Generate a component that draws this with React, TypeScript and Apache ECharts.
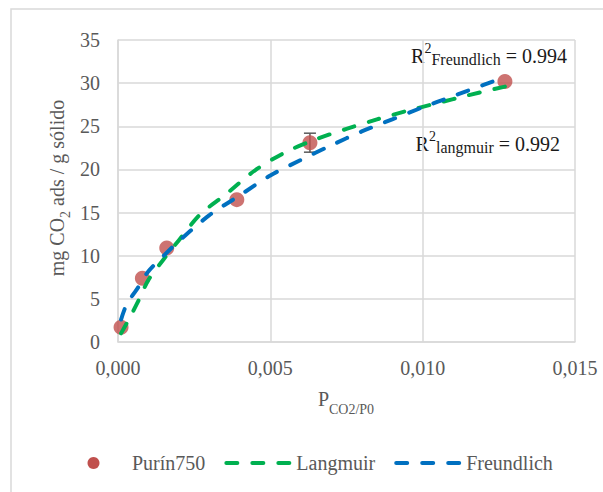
import React, { useEffect, useRef } from "react";
import * as echarts from "echarts";

// ---- data ----
const SERIES_NAMES = ["Purín750", "Langmuir", "Freundlich"];
const SERIES_COLORS = ["#C0504D", "#00B050", "#0070C0"];

const PURIN_P = [0.0001, 0.0008, 0.0016, 0.0039, 0.0063, 0.0127];
const PURIN_Q = [1.7, 7.4, 10.9, 16.5, 23.1, 30.2];
const PURIN_ERR = [0, 0, 0, 0, 1.1, 0];

const LANGMUIR_P = [0.0001, 0.0004, 0.0007, 0.001, 0.0015, 0.002, 0.0027, 0.0035, 0.0045, 0.0055, 0.0065, 0.0075, 0.0085, 0.0095, 0.0105, 0.0115, 0.0127];
const LANGMUIR_Q = [1.0, 2.9, 5.0, 7.2, 9.6, 11.8, 14.8, 17.0, 19.9, 22.0, 23.5, 24.7, 25.8, 26.8, 27.7, 28.6, 29.6];

const FREUNDLICH_P = [0.0001, 0.0003, 0.0006, 0.001, 0.0015, 0.002, 0.003, 0.004, 0.005, 0.006, 0.007, 0.008, 0.009, 0.01, 0.011, 0.012, 0.0127];
const FREUNDLICH_Q = [2.6, 4.5, 6.0, 8.2, 10.0, 11.7, 14.7, 17.0, 19.3, 21.1, 22.8, 24.4, 25.8, 27.2, 28.5, 29.8, 30.7];

const X_MIN = 0;
const X_MAX = 0.015;
const X_STEP = 0.005;
const Y_MIN = 0;
const Y_MAX = 35;
const Y_STEP = 5;

const R2_FREUNDLICH = "0.994";
const R2_LANGMUIR = "0.992";

const FONT = "Liberation Serif";

type Seg = { t: string; fs: number; dy: number; gap?: boolean };

let measureCtx: CanvasRenderingContext2D | null = null;
function measure(t: string, fs: number): number {
  if (!measureCtx) {
    const c = document.createElement("canvas");
    measureCtx = c.getContext("2d");
  }
  if (!measureCtx) return t.length * fs * 0.5;
  measureCtx.font = `${fs}px "${FONT}"`;
  return measureCtx.measureText(t).width;
}

function textEl(t: string, x: number, y: number, fs: number, fill: string) {
  return {
    type: "text",
    x,
    y,
    style: { text: t, fontSize: fs, fontFamily: FONT, fill, align: "left", verticalAlign: "middle" },
  };
}

function richGroup(
  segs: Seg[],
  x: number,
  y: number,
  anchor: "left" | "right" | "center",
  fill: string,
  rotation = 0
) {
  const widths = segs.map((s) => measure(s.t, s.fs) + (s.gap ? measure(" ", s.fs) : 0));
  const total = widths.reduce((a, b) => a + b, 0);
  let cur = anchor === "left" ? 0 : anchor === "right" ? -total : -total / 2;
  const children = segs.map((s, i) => {
    const gapW = s.gap ? measure(" ", s.fs) : 0;
    const el = textEl(s.t, cur + gapW, s.dy, s.fs, fill);
    cur += widths[i];
    return el;
  });
  return { type: "group", x, y, rotation, children };
}

function legendGroup(left: number, cy: number, textColor: string) {
  const boxW = 67;
  const textGap = 5;
  const itemGap = 19;
  const fs = 20;
  const children: any[] = [];
  let x = left;
  SERIES_NAMES.forEach((name, i) => {
    if (i === 0) {
      children.push({
        type: "circle",
        shape: { cx: x + boxW / 2, cy, r: 6 },
        style: { fill: SERIES_COLORS[i] },
      });
    } else {
      children.push({
        type: "line",
        shape: { x1: x + 2, y1: cy, x2: x + boxW - 2, y2: cy },
        style: { stroke: SERIES_COLORS[i], lineWidth: 4, lineDash: [11, 15], lineCap: "round" },
      });
    }
    x += boxW + textGap;
    children.push(textEl(name, x, cy, fs, textColor));
    x += measure(name, fs) + itemGap;
  });
  return { type: "group", children };
}

export default function App() {
  const ref = useRef<HTMLDivElement>(null);

  useEffect(() => {
    if (!ref.current) return;
    const chart = echarts.init(ref.current, null, { renderer: "svg" });

    const purinData = PURIN_P.map((p, i) => [p, PURIN_Q[i]]);
    const errData = PURIN_P.map((p, i) => [p, PURIN_Q[i], PURIN_ERR[i]]);
    const langData = LANGMUIR_P.map((p, i) => [p, LANGMUIR_Q[i]]);
    const freData = FREUNDLICH_P.map((p, i) => [p, FREUNDLICH_Q[i]]);

    const gridColor = "#d9d9d9";
    const labelColor = "#595959";

    const option: any = {
      animation: false,
      textStyle: { fontFamily: FONT },
      grid: { left: 118, right: 28, top: 40, bottom: 150, containLabel: false },
      xAxis: {
        type: "value",
        min: X_MIN,
        max: X_MAX,
        interval: X_STEP,
        axisLine: { show: true, lineStyle: { color: gridColor, width: 1.5 } },
        axisTick: { show: false },
        splitLine: { show: true, lineStyle: { color: gridColor, width: 1.5 } },
        axisLabel: {
          fontSize: 20,
          fontFamily: FONT,
          color: labelColor,
          margin: 16,
          formatter: (v: number) => v.toFixed(3).replace(".", ","),
        },
      },
      yAxis: {
        type: "value",
        min: Y_MIN,
        max: Y_MAX,
        interval: Y_STEP,
        axisLine: { show: true, lineStyle: { color: gridColor, width: 1.5 } },
        axisTick: { show: false },
        splitLine: { show: true, lineStyle: { color: gridColor, width: 1.5 } },
        axisLabel: { fontSize: 20, fontFamily: FONT, color: labelColor, margin: 18 },
      },
      graphic: [
        {
          type: "rect",
          silent: true,
          shape: { x: 11, y: 9, width: 800, height: 700 },
          style: { fill: "none", stroke: gridColor, lineWidth: 1.5 },
        },
        richGroup(
          [
            { t: "P", fs: 20, dy: 0 },
            { t: "CO2/P0", fs: 14, dy: 10 },
          ],
          346,
          399,
          "center",
          labelColor
        ),
        richGroup(
          [
            { t: "mg CO", fs: 20, dy: 0 },
            { t: "2", fs: 14, dy: 8 },
            { t: "ads / g sólido", fs: 20, dy: 0, gap: true },
          ],
          57,
          188,
          "center",
          labelColor,
          Math.PI / 2
        ),
        richGroup(
          [
            { t: "R", fs: 20, dy: 0 },
            { t: "2", fs: 14, dy: -7.5 },
            { t: "Freundlich", fs: 16, dy: 3 },
            { t: "= " + R2_FREUNDLICH, fs: 20, dy: 0, gap: true },
          ],
          567,
          56,
          "right",
          "#1a1a1a"
        ),
        richGroup(
          [
            { t: "R", fs: 20, dy: 0 },
            { t: "2", fs: 14, dy: -7.5 },
            { t: "langmuir", fs: 16, dy: 3 },
            { t: "= " + R2_LANGMUIR, fs: 20, dy: 0, gap: true },
          ],
          560,
          144,
          "right",
          "#1a1a1a"
        ),
        legendGroup(60, 463, labelColor),
      ],
      series: [
        {
          name: "errbars",
          type: "custom",
          z: 2,
          data: errData,
          renderItem: (params: any, api: any) => {
            const x = api.value(0);
            const y = api.value(1);
            const e = api.value(2);
            if (!e) return { type: "group", children: [] };
            const top = api.coord([x, y + e]);
            const bot = api.coord([x, y - e]);
            const st = { stroke: "#595959", lineWidth: 1.5 };
            return {
              type: "group",
              children: [
                { type: "line", shape: { x1: top[0], y1: top[1], x2: bot[0], y2: bot[1] }, style: st },
                { type: "line", shape: { x1: top[0] - 6, y1: top[1], x2: top[0] + 6, y2: top[1] }, style: st },
                { type: "line", shape: { x1: bot[0] - 6, y1: bot[1], x2: bot[0] + 6, y2: bot[1] }, style: st },
              ],
            };
          },
        },
        {
          name: SERIES_NAMES[0],
          type: "scatter",
          z: 3,
          symbol: "circle",
          symbolSize: 15,
          itemStyle: { color: SERIES_COLORS[0] },
          data: purinData,
        },
        {
          name: SERIES_NAMES[1],
          type: "line",
          z: 4,
          smooth: 0.3,
          symbol: "none",
          showSymbol: false,
          itemStyle: { color: SERIES_COLORS[1] },
          lineStyle: { color: SERIES_COLORS[1], width: 4, type: [11, 15], cap: "round" },
          data: langData,
        },
        {
          name: SERIES_NAMES[2],
          type: "line",
          z: 4,
          smooth: 0.3,
          symbol: "none",
          showSymbol: false,
          itemStyle: { color: SERIES_COLORS[2] },
          lineStyle: { color: SERIES_COLORS[2], width: 4, type: [11, 15], cap: "round" },
          data: freData,
        },
      ],
    };

    chart.setOption(option);
    return () => chart.dispose();
  }, []);

  return (
    <div
      ref={ref}
      style={{ position: "fixed", left: 0, top: 0, width: 603, height: 492, background: "#fff" }}
    />
  );
}
